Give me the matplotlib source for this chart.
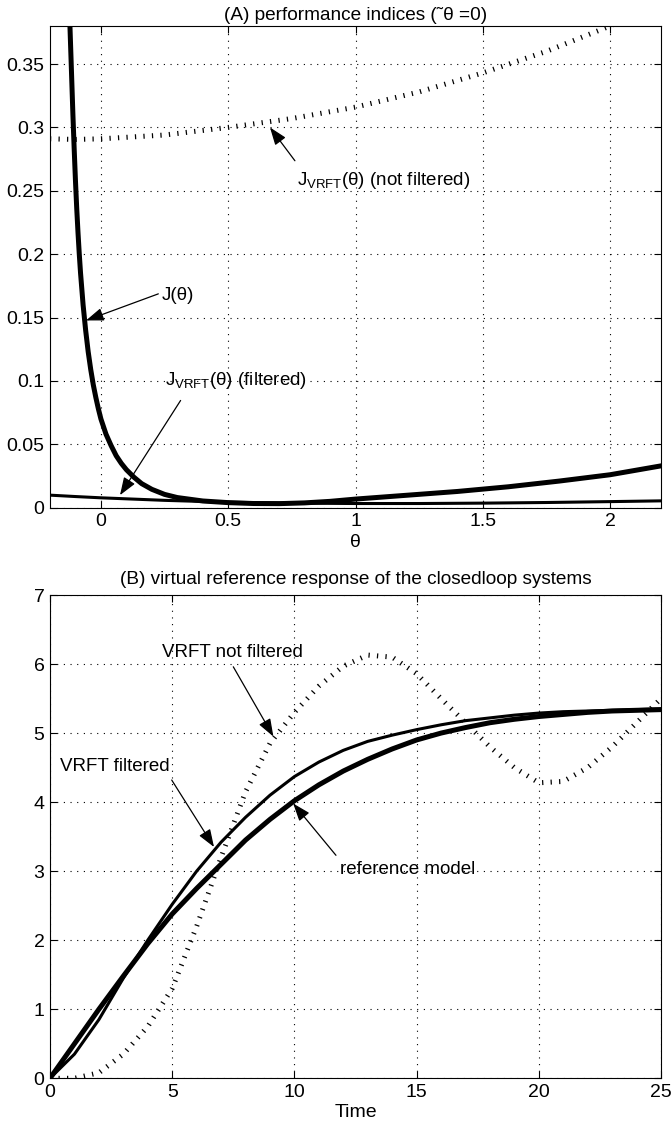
import matplotlib
matplotlib.use("Agg")
import matplotlib.pyplot as plt

plt.rcParams['font.family'] = ['Liberation Sans', 'DejaVu Sans']
plt.rcParams['mathtext.fontset'] = 'custom'
plt.rcParams['mathtext.rm'] = 'Liberation Sans'
plt.rcParams['mathtext.it'] = 'Liberation Sans'

# ---- Panel A: performance indices versus theta ----
theta_J = [-0.125, -0.12, -0.115, -0.11, -0.105, -0.10, -0.095, -0.09, -0.085,
           -0.08, -0.07, -0.06, -0.05, -0.04, -0.03, -0.02, -0.01, 0.0, 0.02,
           0.04, 0.06, 0.08, 0.1, 0.13, 0.16, 0.2, 0.25, 0.3, 0.4, 0.5, 0.6,
           0.7, 0.8, 0.9, 1.0, 1.2, 1.4, 1.6, 1.8, 2.0, 2.2]
J_true = [0.40, 0.37, 0.34, 0.31, 0.283, 0.258, 0.236, 0.217, 0.200,
          0.185, 0.160, 0.140, 0.123, 0.109, 0.097, 0.087, 0.078, 0.070, 0.058,
          0.049, 0.041, 0.035, 0.030, 0.024, 0.019, 0.0145, 0.0105, 0.0080,
          0.0053, 0.0040, 0.0033, 0.0032, 0.0038, 0.005, 0.0068, 0.0098,
          0.0128, 0.0165, 0.021, 0.026, 0.033]

theta_V = [-0.2, -0.1, 0.0, 0.25, 0.5, 0.75, 1.0, 1.25, 1.5, 1.75, 2.0, 2.2]
J_vrft_nf = [0.291, 0.2905, 0.291, 0.294, 0.300, 0.307, 0.316, 0.328, 0.343,
             0.360, 0.380, 0.397]
J_vrft_f = [0.0099, 0.0088, 0.0078, 0.0058, 0.0043, 0.0036, 0.0033, 0.0033,
            0.0036, 0.0041, 0.0048, 0.0054]

theta_ticks = [0, 0.5, 1, 1.5, 2]
theta_ticklabels = ['0', '0.5', '1', '1.5', '2']
J_ticks = [0, 0.05, 0.1, 0.15, 0.2, 0.25, 0.3, 0.35]
J_ticklabels = ['0', '0.05', '0.1', '0.15', '0.2', '0.25', '0.3', '0.35']

# ---- Panel B: virtual reference step responses ----
t = list(range(26))
y_ref = [0, 0.5, 1.0, 1.48, 1.95, 2.38, 2.75, 3.1, 3.45, 3.75, 4.02, 4.25, 4.45,
         4.62, 4.77, 4.9, 5.0, 5.08, 5.15, 5.2, 5.24, 5.27, 5.3, 5.32, 5.33, 5.34]
y_filt = [0, 0.35, 0.85, 1.45, 2.0, 2.52, 3.0, 3.42, 3.78, 4.1, 4.37, 4.58, 4.75,
          4.88, 4.97, 5.05, 5.12, 5.18, 5.22, 5.26, 5.29, 5.31, 5.32, 5.33, 5.34, 5.35]
y_nofilt = [0, 0.0, 0.08, 0.35, 0.75, 1.3, 2.2, 3.2, 4.15, 4.85, 5.3, 5.68, 5.97,
            6.13, 6.1, 5.86, 5.5, 5.15, 4.8, 4.5, 4.28, 4.3, 4.5, 4.8, 5.15, 5.5]

t_ticks = [0, 5, 10, 15, 20, 25]
y_ticks = [0, 1, 2, 3, 4, 5, 6, 7]

W, H = 671, 1129
fig = plt.figure(figsize=(W / 100, H / 100), dpi=100)

def px_axes(left, top, right, bottom):
    return fig.add_axes([left / W, 1 - bottom / H, (right - left) / W, (bottom - top) / H])

axA = px_axes(50, 26, 661, 507.7)
axB = px_axes(50, 595, 661, 1078.3)

tick_dash = dict(linestyle=(0, (0.25, 1.45)), dash_capstyle='butt')

def style_axes(ax):
    ax.grid(True, color='black', linestyle=(0, (1, 5)), linewidth=0.8)
    ax.tick_params(direction='in', length=5, width=0.8, top=True, right=True,
                   labelsize=14, pad=4)
    for s in ax.spines.values():
        s.set_linewidth(0.8)
        s.set_color('black')

# Panel A curves
axA.plot(theta_J, J_true, color='black', lw=3.6, solid_joinstyle='round')
axA.plot(theta_V, J_vrft_f, color='black', lw=2.2)
axA.plot(theta_V, J_vrft_nf, color='black', lw=3.6, **tick_dash)
axA.set_xlim(-0.2, 2.2)
axA.set_ylim(0, 0.38)
axA.set_xticks(theta_ticks)
axA.set_xticklabels(theta_ticklabels)
axA.set_yticks(J_ticks)
axA.set_yticklabels(J_ticklabels)
style_axes(axA)
axA.set_xlabel('θ', fontsize=14, labelpad=3)
axA.set_title('(A) performance indices (\u02dcθ =0)', fontsize=13.7, pad=4)

arrow = dict(arrowstyle='-|>,head_length=0.6,head_width=0.22', color='black',
             lw=0.9, mutation_scale=18, shrinkA=0, shrinkB=0)
axA.annotate('', xy=(-0.0585, 0.1477), xytext=(0.2255, 0.1687), arrowprops=arrow)
axA.text(0.239, 0.1674, 'J(θ)', fontsize=13.5, ha='left', va='center')
axA.annotate('', xy=(0.664, 0.300), xytext=(0.762, 0.2737), arrowprops=arrow)
axA.text(0.771, 0.258, r'J$_{\mathrm{VRFT}}$(θ) (not filtered)', fontsize=13.5,
         ha='left', va='center')
axA.annotate('', xy=(0.075, 0.0099), xytext=(0.313, 0.0846), arrowprops=arrow)
axA.text(0.252, 0.100, r'J$_{\mathrm{VRFT}}$(θ) (filtered)', fontsize=13.5,
         ha='left', va='center')

# Panel B curves
axB.plot(t, y_nofilt, color='black', lw=3.6, **tick_dash)
axB.plot(t, y_ref, color='black', lw=3.6, solid_joinstyle='round')
axB.plot(t, y_filt, color='black', lw=2.2, solid_joinstyle='round')
axB.set_xlim(0, 25)
axB.set_ylim(0, 7)
axB.set_xticks(t_ticks)
axB.set_yticks(y_ticks)
style_axes(axB)
axB.set_xlabel('Time', fontsize=14, labelpad=2)
axB.set_title('(B) virtual reference response of the closedloop systems',
              fontsize=13.7, pad=8)

axB.annotate('', xy=(9.14, 4.95), xytext=(7.5, 5.96), arrowprops=arrow)
axB.text(4.57, 6.16, 'VRFT not filtered', fontsize=13.5, ha='left', va='center')
axB.annotate('', xy=(6.71, 3.35), xytext=(4.98, 4.32), arrowprops=arrow)
axB.text(0.41, 4.51, 'VRFT filtered', fontsize=13.5, ha='left', va='center')
axB.annotate('', xy=(9.95, 3.98), xytext=(11.7, 3.23), arrowprops=arrow)
axB.text(11.87, 3.02, 'reference model', fontsize=13.5, ha='left', va='center')

fig.savefig('out.png', dpi=100)
